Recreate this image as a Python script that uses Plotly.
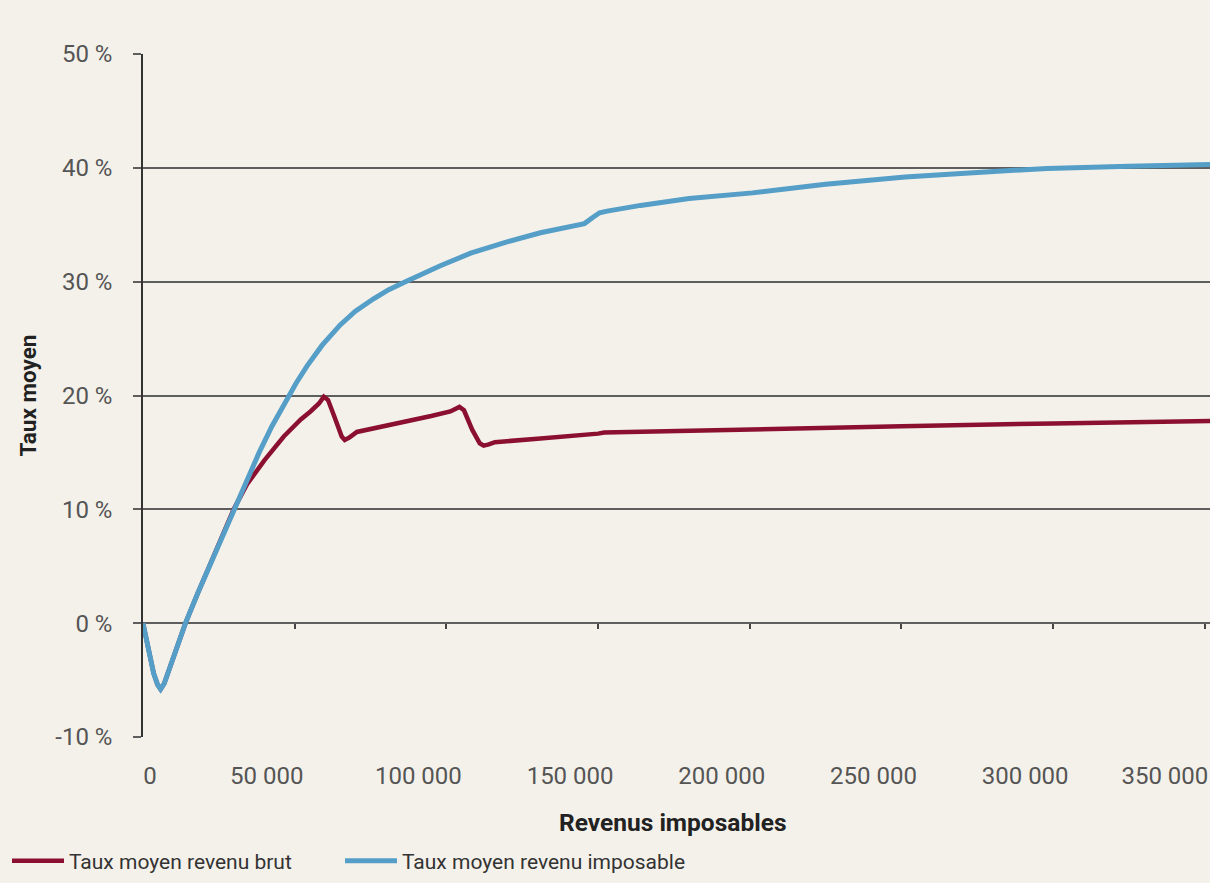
import plotly.graph_objects as go

# ---------------- data ----------------
income_imposable = [0, 1500, 3500, 4800, 5800, 7000, 10000, 14000, 18000, 22300, 26000,
                    29900, 34000, 38300, 42500, 46700, 50500, 54100, 59000, 65000, 70000,
                    76000, 81000, 86500, 92000, 98000, 108000, 120000, 131000, 142000,
                    145500, 148000, 150500, 153000, 158000, 164000, 180000, 200900,
                    225000, 251200, 275000, 298000, 325000, 351700]
rate_imposable = [0.0, -1.9, -4.4, -5.4, -5.8, -5.3, -2.9, 0.0, 2.6, 5.2, 7.6,
                  10.0, 12.5, 15.0, 17.3, 19.4, 21.1, 22.6, 24.4, 26.2, 27.4,
                  28.5, 29.3, 30.0, 30.7, 31.4, 32.5, 33.5, 34.3, 34.9,
                  35.1, 35.6, 36.05, 36.2, 36.45, 36.7, 37.3, 37.8,
                  38.55, 39.2, 39.6, 39.95, 40.15, 40.3]

income_brut = [0, 1500, 3500, 4800, 5800, 7000, 10000, 14000, 18000, 22300, 26000,
               29900, 34300, 40000, 46400, 52000, 55200, 58000, 59600, 61000, 63000,
               65500, 66500, 68000, 70500, 78000, 85000, 95000, 101300, 103200, 104300,
               105800, 108500, 111000, 112300, 114000, 116000, 130000, 146000, 150000,
               152000, 160000, 200000, 250000, 300000, 351700]
rate_brut = [0.0, -1.9, -4.4, -5.4, -5.8, -5.3, -2.9, 0.0, 2.6, 5.2, 7.6,
             10.0, 12.2, 14.3, 16.4, 17.9, 18.6, 19.3, 19.9, 19.6, 18.2,
             16.4, 16.1, 16.3, 16.8, 17.2, 17.6, 18.2, 18.6, 18.9, 19.0,
             18.7, 17.0, 15.8, 15.6, 15.7, 15.9, 16.2, 16.5, 16.65,
             16.75, 16.8, 17.0, 17.3, 17.55, 17.75]

x_tick_values = [0, 50000, 100000, 150000, 200000, 250000, 300000, 350000]
x_tick_labels = ["0", "50 000", "100 000", "150 000", "200 000", "250 000", "300 000", "350 000"]
y_tick_values = [-10, 0, 10, 20, 30, 40, 50]
y_tick_labels = ["-10 %", "0 %", "10 %", "20 %", "30 %", "40 %", "50 %"]

series_names = ["Taux moyen revenu brut", "Taux moyen revenu imposable"]
x_title = "Revenus imposables"
y_title = "Taux moyen"

# ---------------- style ----------------
W, H = 1210, 883
ML, MR, MT, MB = 143, 0, 54, 146
BG = "#f4f1ea"
RED = "#8b1030"
BLUE = "#549ec7"
GRID = "#5e5e5e"
FONT = "Roboto, Arial, sans-serif"
X_RANGE = [0, 351700]
Y_RANGE = [-10, 50]
TICKFONT = dict(size=24, color="#555555")

fig = go.Figure()
fig.add_trace(go.Scatter(x=income_brut, y=rate_brut, mode="lines", name=series_names[0],
                         line=dict(color=RED, width=4.5), legend="legend"))
fig.add_trace(go.Scatter(x=income_imposable, y=rate_imposable, mode="lines", name=series_names[1],
                         line=dict(color=BLUE, width=5), legend="legend2"))

zero_pos = (0 - Y_RANGE[0]) / (Y_RANGE[1] - Y_RANGE[0])

label_axis = dict(range=X_RANGE, overlaying="x", anchor="y", side="bottom",
                  showgrid=False, zeroline=False, showline=False, ticks="",
                  ticklabelstandoff=22, ticklabeloverflow="allow", tickfont=TICKFONT)

legend_style = dict(orientation="h", xref="container", yref="container",
                    y=(H - 861) / H, xanchor="left", yanchor="middle",
                    font=dict(size=21, color="#333333", family=FONT),
                    itemwidth=52, bgcolor="rgba(0,0,0,0)")

fig.update_layout(
    width=W, height=H,
    margin=dict(l=ML, r=MR, t=MT, b=MB, autoexpand=False),
    paper_bgcolor=BG, plot_bgcolor=BG,
    font=dict(family=FONT, color="#555555"),
    showlegend=True,
    legend=dict(legend_style, x=7 / W),
    legend2=dict(legend_style, x=340 / W),
    xaxis=dict(range=X_RANGE, showgrid=False, zeroline=False, showline=False,
               ticks="", tickvals=x_tick_values[1:-1], ticktext=x_tick_labels[1:-1],
               ticklabelshift=-28, ticklabelstandoff=22, ticklabeloverflow="allow",
               tickfont=TICKFONT),
    xaxis2=dict(range=X_RANGE, overlaying="x", anchor="free", position=zero_pos,
                side="bottom", showgrid=False, zeroline=False, showline=False,
                ticks="outside", ticklen=5, tickwidth=1.5, tickcolor="#444444",
                tickvals=x_tick_values[1:], showticklabels=False),
    xaxis3=dict(label_axis, tickvals=x_tick_values[:1], ticktext=x_tick_labels[:1],
                ticklabelshift=7),
    xaxis4=dict(label_axis, tickvals=x_tick_values[-1:], ticktext=x_tick_labels[-1:],
                ticklabelshift=-40),
    yaxis=dict(range=Y_RANGE, tickvals=y_tick_values, ticktext=y_tick_labels,
               showgrid=True, gridcolor=GRID, gridwidth=1.5, zeroline=False,
               showline=True, linecolor="#333333", linewidth=1.5,
               ticks="outside", ticklen=8, tickwidth=1.5, tickcolor=GRID,
               ticklabelstandoff=16, tickfont=TICKFONT),
)

# empty traces that activate the auxiliary axes (no visible marks)
for ax in ["x2", "x3", "x4"]:
    fig.add_trace(go.Scatter(x=[None], y=[None], xaxis=ax, showlegend=False, hoverinfo="skip"))

plot_w = W - ML - MR
plot_h = H - MT - MB
fig.add_annotation(text=f"<b>{y_title}</b>", xref="paper", yref="paper",
                   x=(27 - ML) / plot_w, y=0.5, textangle=-90, showarrow=False,
                   font=dict(size=22.5, color="#222222", family=FONT),
                   xanchor="center", yanchor="middle")
fig.add_annotation(text=f"<b>{x_title}</b>", xref="paper", yref="paper",
                   x=(672 - ML) / plot_w, y=-(822 - (H - MB)) / plot_h, showarrow=False,
                   font=dict(size=24.5, color="#222222", family=FONT),
                   xanchor="center", yanchor="middle")

fig.write_html("out.html", config={"displayModeBar": False},
               post_script="document.body.style.margin='0px';")
